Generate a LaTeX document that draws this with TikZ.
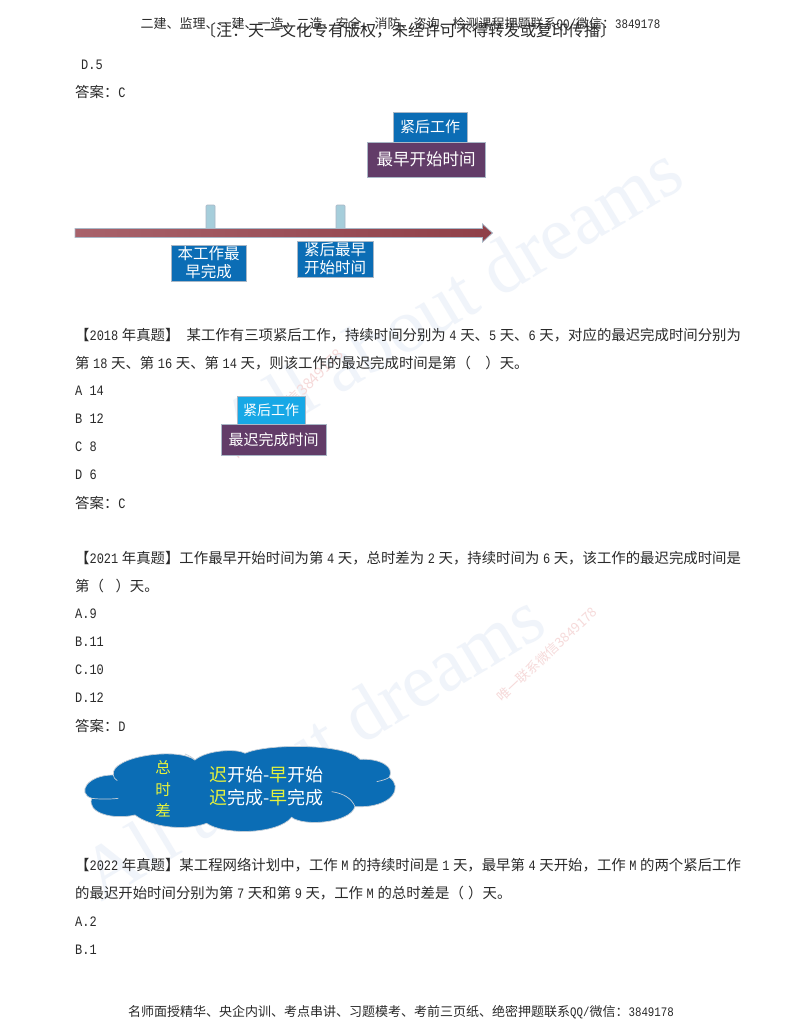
\documentclass[tikz,border=0pt]{standalone}
\usepackage{fontspec}
\setmainfont{Noto Sans CJK SC}
\newfontfamily\lat{Liberation Mono}[FakeStretch=0.83]
\newfontfamily\wm{Liberation Serif}
\newcommand\dg[1]{\hspace{.25em}{\lat #1}\hspace{.25em}}
\newcommand\lt[1]{{\lat #1}}
\newcommand\ye[1]{\textcolor{cloudyel}{#1}}
\definecolor{bluebox}{HTML}{0B6DB5}
\definecolor{skybox}{HTML}{17A8E6}
\definecolor{plum}{HTML}{623C68}
\definecolor{edgegrey}{HTML}{A9B7C6}
\definecolor{tick}{HTML}{A6CEDB}
\definecolor{axisredA}{HTML}{A8626B}
\definecolor{axisredB}{HTML}{8F3F48}
\definecolor{cloudyel}{HTML}{E6F23C}
\definecolor{wmblue}{HTML}{F0F4FA}
\definecolor{wmred}{HTML}{F6DADA}
\definecolor{ink}{HTML}{2A2A2A}
\tikzset{
  line/.style={anchor=west,inner sep=0pt,text=ink,font=\fontsize{14.4}{14.4}\selectfont},
  head/.style={anchor=center,inner sep=0pt,text=ink,font=\fontsize{13}{13}\selectfont},
  boxb/.style={draw=edgegrey,line width=.8pt,fill=bluebox,text=white,inner sep=0pt,align=center},
  boxp/.style={draw=edgegrey,line width=.8pt,fill=plum,text=white,inner sep=0pt,align=center},
  tickbar/.style={draw=edgegrey,line width=.6pt,fill=tick,rounded corners=1pt},
  mark1/.style={text=wmblue,inner sep=0pt,font=\wm\fontsize{76}{76}\selectfont},
  mark2/.style={text=wmred,inner sep=0pt},
  cloudtxt/.style={inner sep=0pt,text=white,font=\fontsize{18}{18}\selectfont},
  cloudside/.style={inner sep=0pt,text=cloudyel,font=\fontsize{15.5}{15.5}\selectfont},
}
\begin{document}
\begin{tikzpicture}[x=1pt,y=-1pt]
\useasboundingbox (0,0) rectangle (800,1035);
\fill[white] (0,0) rectangle (800,1035);
% watermarks
\node[mark1,rotate=31] (wmA) at (450,298) {All about dreams};
\node[mark1,rotate=31] (wmB) at (312,745) {All about dreams};
\node[mark2,rotate=45,font=\fontsize{15}{15}\selectfont] (wmC) at (288,404) {唯一联系微信3849178};
\node[mark2,rotate=43,font=\fontsize{13.2}{13.2}\selectfont] (wmD) at (547,654) {唯一联系微信3849178};
% header
\node[head] (h1) at (400.5,24) {二建、监理、一建、一造、二造、安全、消防、咨询、检测课程押题联系\lt{QQ/}微信：\lt{3849178}};
\node[head,font=\fontsize{16}{16}\selectfont] (h2) at (408,30) {〔注：天一文化专有版权，未经许可不得转发或复印传播〕};
% text lines
\node[line] (t1) at (81,65) {\lt{D.5}};
\node[line] (t2) at (75,92) {答案：\lt{C}};
\node[line] (q1) at (75,335) {【\lt{2018}\hspace{.25em}年真题】\hspace{.5em}某工作有三项紧后工作，持续时间分别为\dg{4}天、\lt{5}\hspace{.25em}天、\lt{6}\hspace{.25em}天，对应的最迟完成时间分别为};
\node[line] (q2) at (75,363) {第\dg{18}天、第\dg{16}天、第\dg{14}天，则该工作的最迟完成时间是第（\hspace{1em}）天。};
\node[line] (a1) at (75,391) {\lt{A 14}};
\node[line] (a2) at (75,419) {\lt{B 12}};
\node[line] (a3) at (75,447) {\lt{C 8}};
\node[line] (a4) at (75,475) {\lt{D 6}};
\node[line] (a5) at (75,503) {答案：\lt{C}};
\node[line] (r1) at (75,558) {【\lt{2021}\hspace{.25em}年真题】工作最早开始时间为第\dg{4}天，总时差为\dg{2}天，持续时间为\dg{6}天，该工作的最迟完成时间是};
\node[line] (r2) at (75,586) {第（\hspace{.8em}）天。};
\node[line] (b1) at (75,614) {\lt{A.9}};
\node[line] (b2) at (75,642) {\lt{B.11}};
\node[line] (b3) at (75,670) {\lt{C.10}};
\node[line] (b4) at (75,698) {\lt{D.12}};
\node[line] (b5) at (75,726) {答案：\lt{D}};
\node[line] (s1) at (75,865) {【\lt{2022}\hspace{.25em}年真题】某工程网络计划中，工作\dg{M}的持续时间是\dg{1}天，最早第\dg{4}天开始，工作\dg{M}的两个紧后工作};
\node[line] (s2) at (75,893) {的最迟开始时间分别为第\dg{7}天和第\dg{9}天，工作\dg{M}的总时差是（\hspace{.3em}）天。};
\node[line] (c1) at (75,922) {\lt{A.2}};
\node[line] (c2) at (75,950) {\lt{B.1}};
\node[head] (foot) at (401,1012) {名师面授精华、央企内训、考点串讲、习题模考、考前三页纸、绝密押题联系\lt{QQ/}微信：\lt{3849178}};
% diagram 1
\node[boxb,minimum width=74pt,minimum height=30pt,font=\fontsize{15}{15}\selectfont] (d1a) at (430,127) {紧后工作};
\node[boxp,minimum width=118pt,minimum height=35pt,font=\fontsize{16.5}{16.5}\selectfont] (d1b) at (426,159.5) {最早开始时间};
\draw[tickbar] (206,205) rectangle (215,229);
\draw[tickbar] (336,205) rectangle (345,229);
\coordinate (axisL) at (75,233);
\coordinate (axisR) at (492.5,233);
\draw[draw=edgegrey,line width=.8pt,left color=axisredA,right color=axisredB] ([yshift=-4.5pt]axisL) -- ([xshift=-10pt,yshift=-4.5pt]axisR) -- ([xshift=-10pt,yshift=-9pt]axisR) -- (axisR) -- ([xshift=-10pt,yshift=9pt]axisR) -- ([xshift=-10pt,yshift=4.5pt]axisR) -- ([yshift=4.5pt]axisL) -- cycle;
\node[boxb,minimum width=75pt,minimum height=36pt,font=\fontsize{15.5}{18}\selectfont] (d1c) at (208.5,263) {本工作最\\早完成};
\node[boxb,minimum width=76pt,minimum height=36pt,font=\fontsize{15.5}{18}\selectfont] (d1d) at (335,259) {紧后最早\\开始时间};
% diagram 2
\node[boxb,fill=skybox,minimum width=68pt,minimum height=28pt,font=\fontsize{14}{14}\selectfont] (d2a) at (271,410) {紧后工作};
\node[boxp,minimum width=105pt,minimum height=31pt,font=\fontsize{15}{15}\selectfont] (d2b) at (273.5,439.5) {最迟完成时间};
% cloud
\begin{scope}[shift={(70,590)},x=.3333pt,y=-.3333pt]
\draw[draw=edgegrey!70,line width=.7pt,fill=bluebox]
 (130,555) .. controls (120,500) and (320,470) .. (375,510)
 .. controls (410,480) and (500,475) .. (525,490)
 .. controls (590,460) and (830,460) .. (870,508)
 .. controls (930,505) and (975,530) .. (958,562)
 .. controls (1000,590) and (970,655) .. (855,650)
 .. controls (840,700) and (700,710) .. (665,682)
 .. controls (620,735) and (460,735) .. (410,700)
 .. controls (340,725) and (240,710) .. (195,675)
 .. controls (130,690) and (50,670) .. (65,625)
 .. controls (20,610) and (50,555) .. (130,555) -- cycle;
\draw[edgegrey!70,line width=.7pt] (785,605) .. controls (820,610) and (845,625) .. (855,650);
\draw[edgegrey!70,line width=.7pt] (920,575) .. controls (935,572) and (950,568) .. (958,562);
\draw[edgegrey!70,line width=.7pt] (65,625) .. controls (90,628) and (120,628) .. (145,625);
\draw[edgegrey!70,line width=.7pt] (130,555) .. controls (130,562) and (135,568) .. (142,572);
\draw[edgegrey!70,line width=.7pt] (345,492) .. controls (358,497) and (368,503) .. (375,510);
\end{scope}
\node[cloudtxt,anchor=west] (cl1) at (209,775) {\ye{迟}开始-\ye{早}开始};
\node[cloudtxt,anchor=west] (cl2) at (209,798) {\ye{迟}完成-\ye{早}完成};
\node[cloudside] (cs1) at (163,768) {总};
\node[cloudside] (cs2) at (163,790) {时};
\node[cloudside] (cs3) at (163,810) {差};
\end{tikzpicture}
\end{document}
